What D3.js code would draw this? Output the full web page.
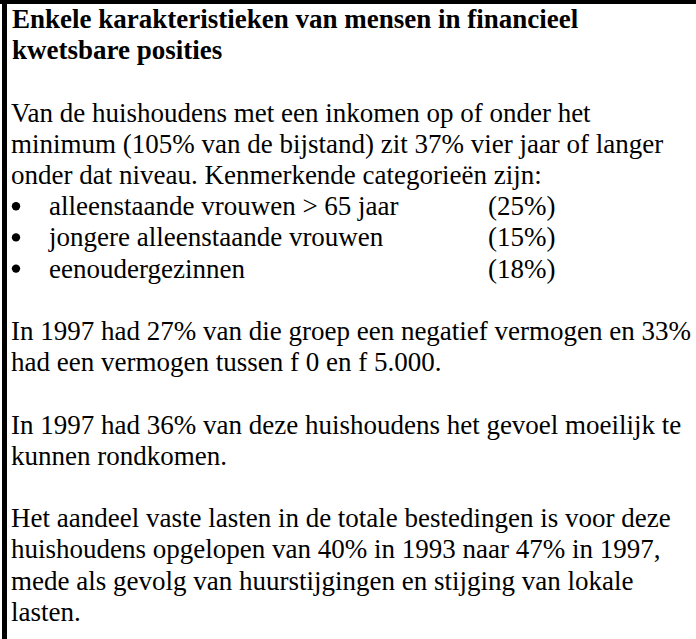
<!DOCTYPE html>
<html>
<head>
<meta charset="utf-8">
<script src="https://cdn.jsdelivr.net/npm/d3@7"></script>
<style>
  html, body { margin: 0; padding: 0; background: #fff; }
  svg { display: block; }
</style>
</head>
<body>
<svg id="chart" width="696" height="639"></svg>
<script>
// ---- content ----
const titleLines = ["Enkele karakteristieken van mensen in financieel", "kwetsbare posities"];
const introLines = [
  "Van de huishoudens met een inkomen op of onder het",
  "minimum (105% van de bijstand) zit 37% vier jaar of langer",
  "onder dat niveau. Kenmerkende categorieën zijn:"
];
const bulletLabels = ["alleenstaande vrouwen > 65 jaar", "jongere alleenstaande vrouwen", "eenoudergezinnen"];
const bulletShares = [25, 15, 18];
const paragraphs = [
  ["In 1997 had 27% van die groep een negatief vermogen en 33%", "had een vermogen tussen f 0 en f 5.000."],
  ["In 1997 had 36% van deze huishoudens het gevoel moeilijk te", "kunnen rondkomen."],
  ["Het aandeel vaste lasten in de totale bestedingen is voor deze",
   "huishoudens opgelopen van 40% in 1993 naar 47% in 1997,",
   "mede als gevolg van huurstijgingen en stijging van lokale",
   "lasten."]
];

// ---- layout ----
const W = 696, H = 639;
const fontFamily = "'Liberation Serif', 'Times New Roman', serif";
const fs = 27;
const lineStep = 31.2;
const textX = 11;
const titleX = 12;

const svg = d3.select("#chart");
svg.append("rect").attr("x", 0).attr("y", 0).attr("width", W).attr("height", H).attr("fill", "#fff");
// frame (top and left edges visible)
svg.append("rect").attr("x", 0).attr("y", 0).attr("width", W).attr("height", 4).attr("fill", "#000");
svg.append("rect").attr("x", 2).attr("y", 0).attr("width", 5).attr("height", H).attr("fill", "#000");

// line-slot scale: each slot is one line of text (blank lines included)
const totalSlots = titleLines.length + 1 + introLines.length + bulletLabels.length + 1 +
  paragraphs.reduce((s, p) => s + p.length, 0) + paragraphs.length - 1;
const yScale = d3.scaleLinear().domain([0, totalSlots - 1]).range([28, 28 + (totalSlots - 1) * lineStep]);

const lines = [];
let slot = 0;
titleLines.forEach(t => { lines.push({text: t, slot: slot++, bold: true, x: titleX}); });
slot++; // blank line
introLines.forEach(t => { lines.push({text: t, slot: slot++, x: textX}); });
const bullets = bulletLabels.map((l, i) => ({label: l, share: bulletShares[i], slot: slot + i}));
slot += bulletLabels.length;
paragraphs.forEach(p => {
  slot++; // blank line
  p.forEach(t => { lines.push({text: t, slot: slot++, x: textX}); });
});

const g = svg.append("g").attr("font-family", fontFamily).attr("font-size", fs).attr("fill", "#000");

g.selectAll("text.line").data(lines).join("text")
  .attr("class", "line")
  .attr("x", d => d.x)
  .attr("y", d => yScale(d.slot))
  .attr("font-weight", d => d.bold ? "bold" : "normal")
  .text(d => d.text);

const bg = g.selectAll("g.bullet").data(bullets).join("g").attr("class", "bullet");
bg.append("circle").attr("cx", 16).attr("cy", d => yScale(d.slot) - 9).attr("r", 4.2).attr("fill", "#000");
bg.append("text").attr("x", 49).attr("y", d => yScale(d.slot)).text(d => d.label);
bg.append("text").attr("x", 488).attr("y", d => yScale(d.slot)).text(d => "(" + d.share + "%)");
</script>
</body>
</html>
